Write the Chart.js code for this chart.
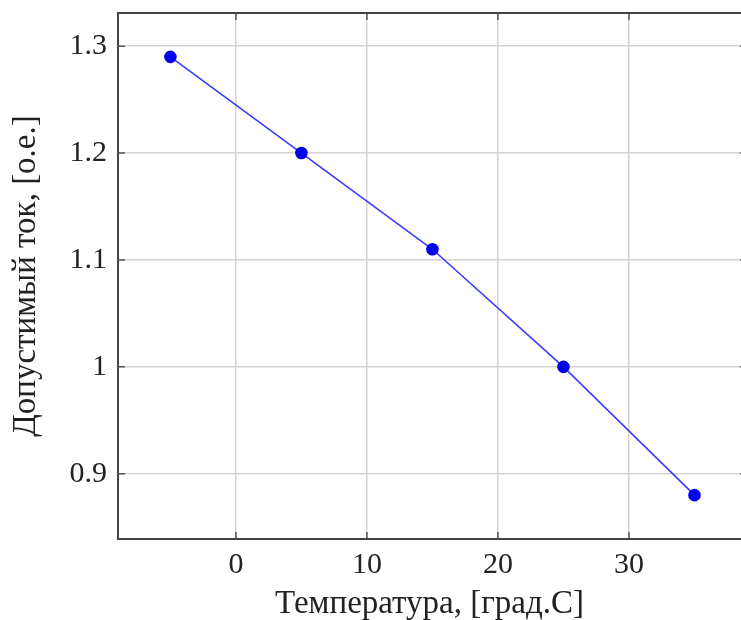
<!DOCTYPE html>
<html><head><meta charset="utf-8">
<script src="https://cdn.jsdelivr.net/npm/chart.js@4.4.0/dist/chart.umd.min.js"></script>
<style>html,body{margin:0;padding:0;overflow:hidden;background:#fff;width:741px;height:620px}
canvas{display:block}</style>
</head><body><canvas id="c" width="741" height="620" style="width:741px;height:620px"></canvas>
<script>
const temperatures = [-5, 5, 15, 25, 35];
const currents = [1.29, 1.2, 1.11, 1.0, 0.88];
const xTicks = [0, 10, 20, 30];
const yTicks = [0.9, 1.0, 1.1, 1.2, 1.3];
const xTitle = 'Температура, [град.С]';
const yTitle = 'Допустимый ток, [о.е.]';
const xAxisEnd = 39; // right border of the axis box (cut off in the picture)

const FONT = "'Liberation Serif','DejaVu Serif',serif";
const innerTicks = {
  id: 'innerTicks',
  afterDatasetsDraw(chart) {
    const {ctx, chartArea: a, scales: {x, y}} = chart;
    const right = x.getPixelForValue(xAxisEnd);
    ctx.save();
    ctx.strokeStyle = '#555'; ctx.lineWidth = 1.5;
    ctx.beginPath();
    xTicks.forEach(v => { const p = x.getPixelForValue(v);
      ctx.moveTo(p, a.bottom); ctx.lineTo(p, a.bottom - 7);
      ctx.moveTo(p, a.top); ctx.lineTo(p, a.top + 7); });
    yTicks.forEach(v => { const p = y.getPixelForValue(v);
      ctx.moveTo(a.left, p); ctx.lineTo(a.left + 7, p);
      ctx.moveTo(right, p); ctx.lineTo(right - 7, p); });
    ctx.stroke();
    ctx.strokeStyle = '#444'; ctx.lineWidth = 2;
    ctx.strokeRect(a.left, a.top, right - a.left, a.bottom - a.top);
    ctx.restore();
  }
};

new Chart(document.getElementById('c'), {
  type: 'scatter',
  data: { datasets: [{
    data: temperatures.map((t, i) => ({x: t, y: currents[i]})),
    showLine: true,
    borderColor: '#3b3bff', borderWidth: 1.6,
    backgroundColor: '#0000ee', pointBorderColor: '#0000ee',
    pointRadius: 5.5, pointHoverRadius: 5.5, tension: 0
  }]},
  options: {
    responsive: false, animation: false,
    devicePixelRatio: 1,
    layout: { autoPadding: false, padding: { top: 13, right: 0, left: 0, bottom: 0 } },
    plugins: { legend: { display: false }, tooltip: { enabled: false } },
    scales: {
      x: {
        type: 'linear', min: -9, max: 38.55,
        afterBuildTicks: s => { s.ticks = xTicks.map(v => ({value: v})); },
        afterFit: s => { s.height = 81; s.paddingLeft = 0; s.paddingRight = 0; },
        grid: { color: '#d4d4d4', lineWidth: 1.5, drawTicks: false },
        border: { display: false },
        ticks: { font: { family: FONT, size: 30 }, color: '#222', padding: 8, maxRotation: 0 },
        title: { display: true, text: xTitle, font: { family: FONT, size: 33 }, color: '#222', padding: {top: 0, bottom: -4} }
      },
      y: {
        type: 'linear', min: 0.839, max: 1.331,
        afterBuildTicks: s => { s.ticks = yTicks.map(v => ({value: v})); },
        afterFit: s => { s.width = 118; s.paddingTop = 0; s.paddingBottom = 0; },
        grid: { color: '#d4d4d4', lineWidth: 1.5, drawTicks: false },
        border: { display: false },
        ticks: { font: { family: FONT, size: 30 }, color: '#222', padding: 11,
          callback: v => String(Math.round(v * 10) / 10) },
        title: { display: true, text: yTitle, font: { family: FONT, size: 33 }, color: '#222', padding: {top: 7, bottom: 0} }
      }
    }
  },
  plugins: [innerTicks]
});
</script></body></html>
